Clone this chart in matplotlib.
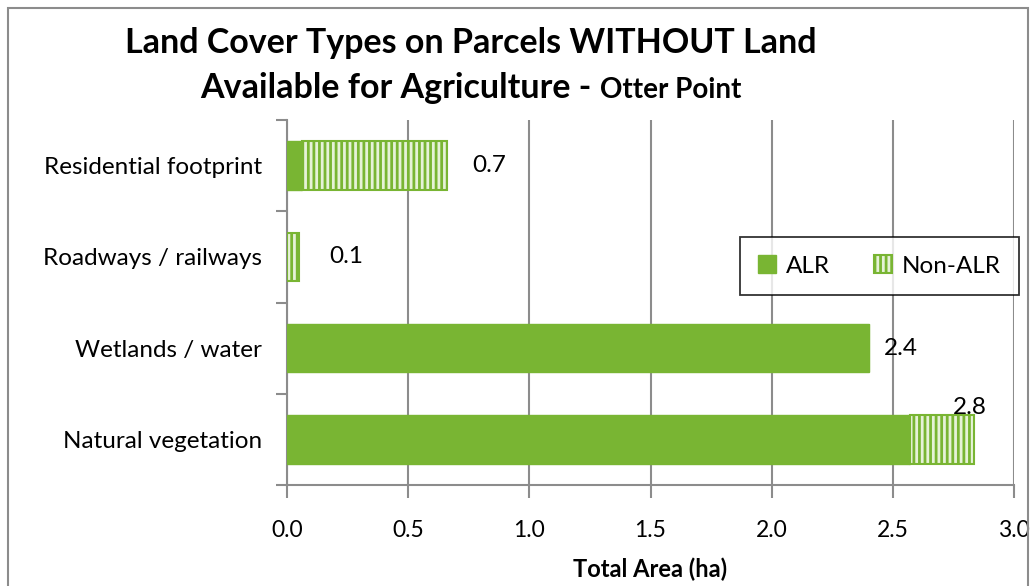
import matplotlib
matplotlib.use("Agg")
import matplotlib.pyplot as plt
from matplotlib.patches import Rectangle
import numpy as np

categories = ["Residential footprint", "Roadways / railways", "Wetlands / water", "Natural vegetation"]
alr = [0.06, 0.0, 2.40, 2.57]
non_alr = [0.60, 0.05, 0.0, 0.265]
total_labels = ["0.7", "0.1", "2.4", "2.8"]
xticks = [0.0, 0.5, 1.0, 1.5, 2.0, 2.5, 3.0]

FONT = "Lato"
plt.rcParams['font.family'] = [FONT, 'DejaVu Sans']
plt.rcParams['hatch.linewidth'] = 2.0

GREEN = "#79b533"
HATCH_FACE = "#e6f2d8"

fig = plt.figure(figsize=(10.34, 5.86), dpi=100)
ax = fig.add_axes([287/1034, 1-485/586, (1014-287)/1034, (485-120)/586])

y = np.arange(len(categories))
ax.barh(y, alr, height=0.53, color=GREEN, edgecolor=GREEN, linewidth=1, label="ALR", zorder=3)
ax.barh(y, non_alr, left=alr, height=0.53, color=HATCH_FACE, edgecolor=GREEN,
        hatch="|||", linewidth=1.5, label="Non-ALR", zorder=3)

ax.set_ylim(len(categories)-0.5, -0.5)
ax.set_xlim(0, 3.0)
ax.set_xticks(xticks)
ax.set_xticklabels([f"{v:.1f}" for v in xticks], fontsize=16.5)
ax.set_yticks(y)
ax.set_yticklabels(categories, fontsize=17.5)
ax.set_yticks(np.arange(-0.5, len(categories), 1), minor=True)
ax.tick_params(axis='y', which='major', length=0, pad=18)
ax.tick_params(axis='y', which='minor', length=8, color='#8c8c8c', width=1.5)
ax.tick_params(axis='x', length=9, color='#8c8c8c', width=1.5, pad=16)
ax.grid(axis='x', color='#8c8c8c', linewidth=1.5, zorder=0)
for s in ['top', 'right']:
    ax.spines[s].set_visible(False)
for s in ['left', 'bottom']:
    ax.spines[s].set_color('#8c8c8c')
    ax.spines[s].set_linewidth(1.5)

ax.set_xlabel("Total Area (ha)", fontsize=17, fontweight='bold', labelpad=12)

# value labels at end of stacked bars
offsets = [(25, 0), (30, 0), (15, 0), (-21, 32)]
totals = [a + b for a, b in zip(alr, non_alr)]
for i, (t, lab) in enumerate(zip(totals, total_labels)):
    ax.annotate(lab, (t, i), xytext=offsets[i], textcoords='offset pixels',
                ha='left', va='center', fontsize=17.5)

leg = ax.legend(loc='upper left', bbox_to_anchor=((740-287)/727, (485-237)/365),
                ncol=2, fontsize=17.5, frameon=True, fancybox=False, edgecolor='black',
                borderpad=0.75, handlelength=0.75, handleheight=0.75, columnspacing=1.8,
                handletextpad=0.4, borderaxespad=0)
leg.get_frame().set_linewidth(1.3)

# outer frame
fig.patches.append(Rectangle((8/1034, -0.05), (1028-8)/1034, 1.05-8/586, transform=fig.transFigure,
                             fill=False, edgecolor='#8c8c8c', linewidth=1.5))

# title
fig.text(471/1034, 1-53/586, "Land Cover Types on Parcels WITHOUT Land", ha='center', va='baseline',
         fontsize=24.5, fontweight='bold')
fig.canvas.draw()
r = fig.canvas.get_renderer()
t1 = fig.text(0, 1-98/586, "Available for Agriculture - ", ha='left', va='baseline', fontsize=24.5, fontweight='bold')
t2 = fig.text(0, 1-98/586, "Otter Point", ha='left', va='baseline', fontsize=20, fontweight='bold')
w1 = t1.get_window_extent(r).width
w2 = t2.get_window_extent(r).width
start = 471 - (w1 + w2) / 2
t1.set_x(start/1034)
t2.set_x((start + w1)/1034)

fig.savefig("out.png", dpi=100)
